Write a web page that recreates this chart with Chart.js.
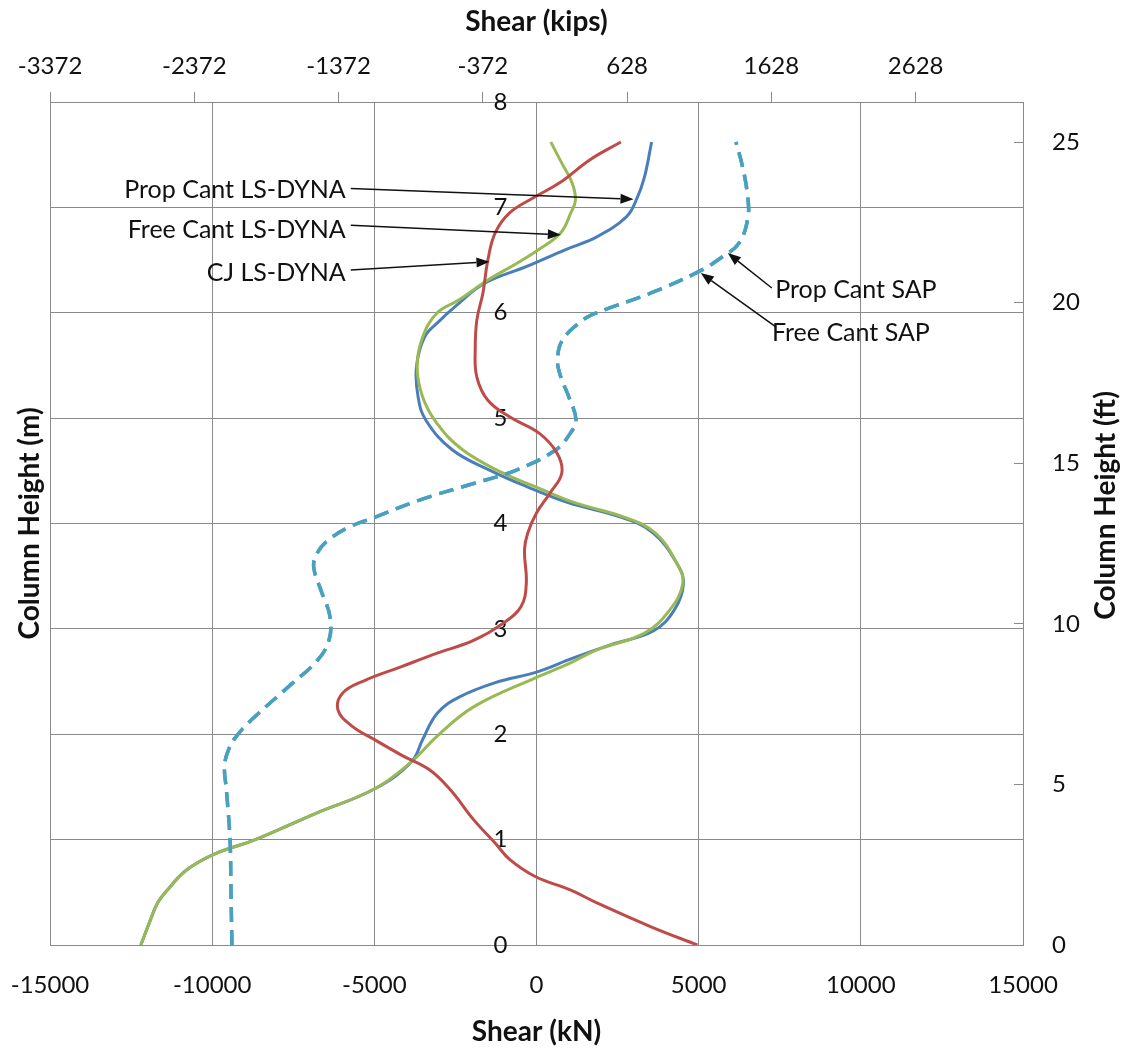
<!DOCTYPE html>
<html>
<head>
<meta charset="utf-8">
<script src="https://cdn.jsdelivr.net/npm/chart.js@4.4.0/dist/chart.umd.min.js"></script>
<style>
html,body{margin:0;padding:0;background:#ffffff;}
#wrap{width:1134px;height:1049px;position:relative;}
</style>
</head>
<body>
<div id="wrap"><canvas id="c" width="1134" height="1049"></canvas></div>
<script>
// ---------- unit conversions ----------
const KN_PER_KIP = 4.448222;
const FT_PER_M = 3.28084;

// ---------- tick labels ----------
const shearTicksKN = [-15000, -10000, -5000, 0, 5000, 10000, 15000];
const shearTicksKips = [-3372, -2372, -1372, -372, 628, 1628, 2628];
const heightTicksM = [0, 1, 2, 3, 4, 5, 6, 7, 8];
const heightTicksFt = [0, 5, 10, 15, 20, 25];

// ---------- series names ----------
const seriesNames = ['Prop Cant LS-DYNA', 'Free Cant LS-DYNA', 'CJ LS-DYNA', 'Prop Cant SAP', 'Free Cant SAP'];

// ---------- Prop Cant LS-DYNA (blue) ----------
const propDynaHeight = [0, 0.2, 0.4, 0.55, 0.71, 0.86, 1.0, 1.25, 1.48, 1.74, 1.95, 2.2, 2.35, 2.49, 2.59, 2.72, 2.85, 2.98, 3.18, 3.43, 3.62, 3.91, 4.06, 4.2, 4.35, 4.5, 4.7, 4.98, 5.2, 5.49, 5.77, 5.92, 6.06, 6.28, 6.44, 6.6, 6.72, 6.91, 7.08, 7.29, 7.62];
const propDynaShear  = [-12200, -11950, -11680, -11300, -10800, -9950, -8670, -6800, -5000, -3850, -3510, -3060, -2400, -1270, 0, 1100, 2300, 3600, 4250, 4530, 4330, 3600, 2600, 950, -300, -1400, -2600, -3410, -3650, -3700, -3450, -3000, -2500, -1600, -300, 900, 1860, 2770, 3090, 3330, 3550];

// ---------- Free Cant LS-DYNA (green) ----------
const freeDynaHeight = [0, 0.2, 0.4, 0.55, 0.71, 0.86, 1.0, 1.25, 1.48, 1.74, 1.98, 2.26, 2.54, 2.67, 2.8, 2.96, 3.18, 3.43, 3.62, 3.91, 4.06, 4.2, 4.35, 4.48, 4.7, 4.95, 5.2, 5.49, 5.77, 6.0, 6.12, 6.31, 6.47, 6.6, 6.76, 6.95, 7.07, 7.23, 7.42, 7.62];
const freeDynaShear  = [-12200, -11950, -11680, -11300, -10800, -9950, -8670, -6800, -5000, -3850, -3070, -1940, 0, 1000, 1860, 3330, 4110, 4510, 4330, 3660, 2700, 1150, -40, -1045, -2280, -3070, -3510, -3680, -3510, -3060, -2400, -1500, -600, 70, 750, 1060, 1200, 1100, 780, 440];

// ---------- CJ LS-DYNA (red) ----------
const cjDynaHeight = [0, 0.17, 0.4, 0.52, 0.65, 0.81, 0.965, 1.19, 1.47, 1.66, 1.8, 1.95, 2.08, 2.23, 2.39, 2.51, 2.64, 2.77, 2.89, 3.05, 3.21, 3.43, 3.75, 3.91, 4.1, 4.29, 4.48, 4.67, 4.86, 5.01, 5.17, 5.39, 5.65, 5.93, 6.19, 6.5, 6.76, 6.95, 7.1, 7.24, 7.45, 7.62];
const cjDynaShear  = [4960, 3550, 1860, 1060, -40, -820, -1270, -1940, -2650, -3290, -4150, -5000, -5700, -6120, -5980, -5300, -4180, -3060, -1940, -1045, -480, -315, -370, -270, 0, 420, 780, 630, 70, -820, -1500, -1840, -1890, -1840, -1650, -1500, -1270, -820, -40, 750, 1640, 2600];

// ---------- SAP (dashed, Prop Cant and Free Cant coincide) ----------
const sapHeight = [0, 0.5, 1.0, 1.47, 1.69, 1.85, 1.99, 2.17, 2.48, 2.7, 2.89, 3.12, 3.37, 3.59, 3.72, 3.84, 3.97, 4.06, 4.22, 4.38, 4.51, 4.7, 4.86, 4.98, 5.2, 5.39, 5.55, 5.74, 5.93, 6.0, 6.19, 6.39, 6.52, 6.66, 6.91, 7.13, 7.39, 7.62];
const propSapShear = [-9390, -9420, -9450, -9560, -9620, -9500, -9230, -8670, -7540, -6760, -6400, -6370, -6650, -6870, -6760, -6430, -5750, -4970, -3630, -1940, -600, 600, 1050, 1220, 1000, 750, 650, 800, 1430, 1860, 3550, 5000, 5680, 6240, 6520, 6500, 6350, 6150];
const freeSapShear = [-9390, -9420, -9450, -9560, -9620, -9500, -9230, -8670, -7540, -6760, -6400, -6370, -6650, -6870, -6760, -6430, -5750, -4970, -3630, -1940, -600, 600, 1050, 1220, 1000, 750, 650, 800, 1430, 1860, 3550, 5000, 5680, 6240, 6520, 6500, 6350, 6150];

// ---------- annotation labels (data units: kN, m) ----------
const annoText  = ['Prop Cant LS-DYNA', 'Free Cant LS-DYNA', 'CJ LS-DYNA', 'Prop Cant SAP', 'Free Cant SAP'];
const annoAlign = ['right', 'right', 'right', 'left', 'left'];
const annoTextX = [-5880, -5880, -5880, 7360, 7260];
const annoTextY = [7.165, 6.785, 6.377, 6.216, 5.808];
const annoTailX = [-5726, -5726, -5726, 7255, 7380];
const annoTailY = [7.18, 6.83, 6.405, 6.235, 5.865];
const annoTipX  = [2991, 750, -1450, 5898, 5065];
const annoTipY  = [7.077, 6.74, 6.484, 6.567, 6.377];

function pts(xs, ys) { return xs.map((v, i) => ({x: v, y: ys[i]})); }

const FONT = 'Lato, Carlito, "Open Sans", sans-serif';
Chart.defaults.font.family = FONT;
const gridColor = '#8a8a8a';
const textColor = '#111111';
const tickFont = {family: FONT, size: 24};
const titleFont = {family: FONT, size: 28, weight: 'bold'};

const arrowPlugin = {
  id: 'arrowLabels',
  afterDatasetsDraw(chart) {
    const {ctx} = chart;
    const xs = chart.scales.x, ys = chart.scales.y;
    ctx.save();
    ctx.strokeStyle = '#111';
    ctx.fillStyle = '#111';
    ctx.lineWidth = 1.5;
    for (let i = 0; i < annoText.length; i++) {
      const tx = xs.getPixelForValue(annoTailX[i]);
      const ty = ys.getPixelForValue(annoTailY[i]);
      const hx = xs.getPixelForValue(annoTipX[i]);
      const hy = ys.getPixelForValue(annoTipY[i]);
      const ang = Math.atan2(hy - ty, hx - tx);
      const len = 13, hw = 5;
      const bx = hx - len * Math.cos(ang), by = hy - len * Math.sin(ang);
      ctx.beginPath();
      ctx.moveTo(tx, ty);
      ctx.lineTo(bx, by);
      ctx.stroke();
      ctx.beginPath();
      ctx.moveTo(hx, hy);
      ctx.lineTo(bx + hw * Math.sin(ang), by - hw * Math.cos(ang));
      ctx.lineTo(bx - hw * Math.sin(ang), by + hw * Math.cos(ang));
      ctx.closePath();
      ctx.fill();
      ctx.font = '25px ' + FONT;
      ctx.textAlign = annoAlign[i];
      ctx.textBaseline = 'middle';
      ctx.fillText(annoText[i], xs.getPixelForValue(annoTextX[i]), ys.getPixelForValue(annoTextY[i]));
    }
    ctx.restore();
  },
  afterDraw(chart) {
    const {ctx, chartArea} = chart;
    ctx.save();
    ctx.font = 'bold 28px ' + FONT;
    ctx.fillStyle = textColor;
    ctx.textAlign = 'center';
    ctx.textBaseline = 'middle';
    ctx.translate(1106, (chartArea.top + chartArea.bottom) / 2 - 18);
    ctx.rotate(-Math.PI / 2);
    ctx.fillText('Column Height (ft)', 0, 0);
    ctx.restore();
  }
};

const lineBase = {showLine: true, pointRadius: 0, pointHoverRadius: 0, borderWidth: 3, tension: 0.4, fill: false, xAxisID: 'x', yAxisID: 'y'};

new Chart(document.getElementById('c'), {
  type: 'scatter',
  data: {
    datasets: [
      Object.assign({}, lineBase, {label: seriesNames[0], data: pts(propDynaShear, propDynaHeight), borderColor: '#4a7ebb', order: 4}),
      Object.assign({}, lineBase, {label: seriesNames[1], data: pts(freeDynaShear, freeDynaHeight), borderColor: '#98b954', order: 3}),
      Object.assign({}, lineBase, {label: seriesNames[2], data: pts(cjDynaShear, cjDynaHeight), borderColor: '#be4b48', order: 1}),
      Object.assign({}, lineBase, {label: seriesNames[3], data: pts(propSapShear, sapHeight), borderColor: '#4aa0c0', borderDash: [15, 8], borderWidth: 3.5, order: 2}),
      Object.assign({}, lineBase, {label: seriesNames[4], data: pts(freeSapShear, sapHeight), borderColor: '#4aa0c0', borderDash: [15, 8], borderWidth: 3.5, order: 2})
    ]
  },
  options: {
    responsive: false,
    animation: false,
    devicePixelRatio: 1,
    layout: {padding: 0},
    plugins: {legend: {display: false}, tooltip: {enabled: false}},
    scales: {
      x: {
        type: 'linear', position: 'bottom', min: -15000, max: 15000,
        afterBuildTicks: s => { s.ticks = shearTicksKN.map(v => ({value: v})); },
        afterFit: s => { s.height = 104; },
        grid: {color: gridColor, lineWidth: 1, drawTicks: true, tickLength: 26, tickColor: 'rgba(0,0,0,0)'},
        border: {color: gridColor, width: 1},
        ticks: {font: tickFont, color: textColor, padding: 0, maxRotation: 0, autoSkip: false, callback: v => String(v)},
        title: {display: true, text: 'Shear (kN)', font: titleFont, color: textColor, padding: {top: 0, bottom: 0}}
      },
      x2: {
        type: 'linear', position: 'top', min: -15000 / KN_PER_KIP, max: 15000 / KN_PER_KIP,
        afterBuildTicks: s => { s.ticks = shearTicksKips.map(v => ({value: v})); },
        afterFit: s => { s.height = 102; },
        grid: {drawOnChartArea: false, drawTicks: true, tickLength: 10, color: gridColor},
        border: {color: gridColor, width: 1},
        ticks: {font: tickFont, color: textColor, padding: 11, maxRotation: 0, autoSkip: false, callback: v => String(v)},
        title: {display: true, text: 'Shear (kips)', font: titleFont, color: textColor, padding: {top: 5, bottom: 0}}
      },
      y: {
        type: 'linear', position: 'left', min: 0, max: 8,
        afterBuildTicks: s => { s.ticks = heightTicksM.map(v => ({value: v})); },
        afterFit: s => { s.width = 50; },
        grid: {color: gridColor, lineWidth: 1, drawTicks: false},
        border: {color: gridColor, width: 1},
        ticks: {display: false},
        title: {display: true, text: 'Column Height (m)', font: titleFont, color: textColor, padding: {top: 13, bottom: 0}}
      },
      ym: {
        type: 'linear', position: {x: -900}, min: 0, max: 8,
        afterBuildTicks: s => { s.ticks = heightTicksM.map(v => ({value: v})); },
        afterFit: s => { s.width = 0; },
        grid: {display: false},
        border: {display: false},
        ticks: {font: tickFont, color: textColor, padding: 0, callback: v => String(v)}
      },
      yft: {
        type: 'linear', position: 'right', min: 0, max: 8 * FT_PER_M,
        afterBuildTicks: s => { s.ticks = heightTicksFt.map(v => ({value: v})); },
        afterFit: s => { s.width = 111; },
        grid: {drawOnChartArea: false, drawTicks: true, tickLength: -9, color: gridColor},
        border: {color: gridColor, width: 1},
        ticks: {font: tickFont, color: textColor, padding: 38, callback: v => String(v)}
      }
    }
  },
  plugins: [arrowPlugin]
});
</script>
</body>
</html>
